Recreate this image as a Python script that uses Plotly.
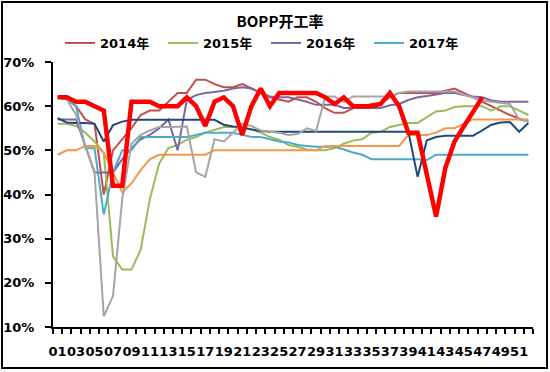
import plotly.graph_objects as go

weeks = ["01","02","03","04","05","06","07","08","09","10","11","12","13","14","15","16","17","18","19","20",
         "21","22","23","24","25","26","27","28","29","30","31","32","33","34","35","36","37","38","39","40",
         "41","42","43","44","45","46","47","48","49","50","51","52"]

y2014 = [62,61.5,60,57,56,40,50,52.5,55,58,59,59,61,63,63,66,66,65,64.3,64.3,65,64,63,62,61.5,61,62,62,61,59.5,
         58.5,58.5,59.5,60,60.5,60.7,62,63,63,63,63,63,63.5,64,63,62,61,60,59,58,57.2,56.5]
y2015 = [56,56,55.5,54,52,49.5,26,23,23,27.5,39,47,50.5,51.2,52.4,53,54,54.6,55.3,55.3,55,54.8,54,53,52.4,51.2,
         50.8,50.2,50,50,50.5,51.5,52.2,52.5,54,54.2,55.3,55.7,56.2,56.2,57.6,58.8,59,59.8,60,60,60,59,60,60,59,58]
y2016 = [57,57,57,51,45,45,45,48,50.5,52.5,53.5,55,57,50,61.4,62.5,63,63.2,63.5,64,64.3,64,63,62.2,62,62,61.5,61,
         60.3,60.3,60.3,59.6,59.6,59.6,59.6,59.6,60.2,60.5,61.4,62,62.3,62.7,63,63,62.5,62.2,62,61.3,61,61,61,61]
y2017 = [62,61.5,60,50.5,50.5,35.5,45,50,50,53,53,53,53,53,53,53.5,54,54,54,54,53.5,53,53,52.5,52,51.8,51.2,51,
         50.8,50.8,50.8,50.2,49.5,49,48,48,48,48,48,48,47.8,49,49,49,49,49,49,49,49,49,49,49]
y2018 = [49,50,50,51,51,49.5,45,40.5,42.5,45.5,48,49,49,49,49,49,49,50,50,50,50,50,50,50,50,50,50,50,50,51,
         51,51,51,51,51,51,51,51,53.5,53.5,53.5,54,55,55,56,57,57,57,57,57,57,57]
y2019 = [57.3,56.3,56.2,56.2,56,52,55.7,56.5,56.9,56.9,56.9,56.9,56.9,56.9,56.9,56.9,56.9,56.9,55.8,55.4,55.2,54.7,
         54.4,54.2,54.2,54.2,54.2,54.2,54.2,54.2,54.2,54.2,54.2,54.2,54.2,54.2,54.2,54.2,54.2,44,52.3,53,53.3,53.3,
         53.3,53.3,54.5,55.8,56.3,56.4,54.2,56.2]
y2020 = [62,61.5,58,51,45,12.4,17,39,51.5,53.5,54.5,55.3,55.3,55.3,55.4,45,44,52.5,52,54,56,55.5,54.5,54.2,54,
         53.5,53.7,55,54.4,62.2,62.2,61,62.2,62.2,62.2,62.2,62.2,63,63.3,63.3,63.3,63.3,63.3,63.3,62.6,62,61.3,61,
         60.8,60.5,57,56.5]
y2021 = [62,62,61,61,60,59,42,42,61,61,61,60,60,60,62,60,55.5,61,62,60,53.5,60,64,60,63,63,63,63,63,62,
         60.5,62,60,60,60,60.5,63,60,54,54,45,35,46,52,55.4,58.8,62]

series = [
    ("2014年", y2014, "#C0504D", 2, True),
    ("2015年", y2015, "#9BBB59", 2, True),
    ("2016年", y2016, "#8064A2", 2, True),
    ("2017年", y2017, "#4BACC6", 2, True),
    ("2018年", y2018, "#F79646", 2, False),
    ("2019年", y2019, "#1F497D", 2, False),
    ("2020年", y2020, "#A5A5A5", 2, False),
    ("2021年", y2021, "#FF0000", 4.5, False),
]

yticks = [10, 20, 30, 40, 50, 60, 70]
yticktext = [f"{v}%" for v in yticks]
xticktext = [w if i % 2 == 0 else "" for i, w in enumerate(weeks)]

FONT = "DejaVu Sans, Noto Sans CJK SC, sans-serif"

fig = go.Figure()
for name, vals, color, width, show in series:
    fig.add_trace(go.Scatter(
        x=weeks[:len(vals)], y=vals, name=name, mode="lines",
        line=dict(color=color, width=width), showlegend=show,
    ))

fig.update_layout(
    width=550, height=372,
    margin=dict(l=53, r=17, t=62, b=45, autoexpand=False),
    paper_bgcolor="white", plot_bgcolor="white",
    title=dict(text="BOPP开工率", x=280 / 550, xanchor="center", y=1 - 22 / 372, yanchor="middle",
               font=dict(family="Noto Sans CJK SC, sans-serif", size=15, color="black", weight="bold")),
    legend=dict(orientation="h", xref="container", yref="container",
                x=60 / 550, xanchor="left", y=1 - 43 / 372, yanchor="middle",
                font=dict(family=FONT, size=13, color="black", weight="bold"),
                bgcolor="rgba(0,0,0,0)", entrywidth=58, itemwidth=30),
    xaxis=dict(type="category", categoryorder="array", categoryarray=weeks,
               tickmode="array", tickvals=weeks, ticktext=xticktext, tickangle=0,
               tickson="boundaries", ticks="outside", ticklen=5, tickwidth=1.5, tickcolor="black",
               showline=True, linecolor="black", linewidth=2, showgrid=False, zeroline=False,
               range=[-0.5, 51.5], ticklabelstandoff=11, automargin=False,
               tickfont=dict(family=FONT, size=13, color="black", weight="bold")),
    yaxis=dict(range=[10, 70], tickmode="array", tickvals=yticks, ticktext=yticktext,
               ticks="outside", ticklen=6, tickwidth=1.5, tickcolor="black",
               showline=True, linecolor="black", linewidth=2, showgrid=False, zeroline=False,
               ticklabelstandoff=8, automargin=False,
               tickfont=dict(family=FONT, size=13, color="black", weight="bold")),
    shapes=[dict(type="rect", xref="paper", yref="paper",
                 x0=(2 - 53) / 480, x1=(547 - 53) / 480, y0=(327 - 368) / 265, y1=(327 - 2) / 265,
                 line=dict(color="black", width=2), fillcolor="rgba(0,0,0,0)", layer="above")],
)

fig.write_html("out.html", config={"displayModeBar": False},
               post_script="document.body.style.margin='0px';")
